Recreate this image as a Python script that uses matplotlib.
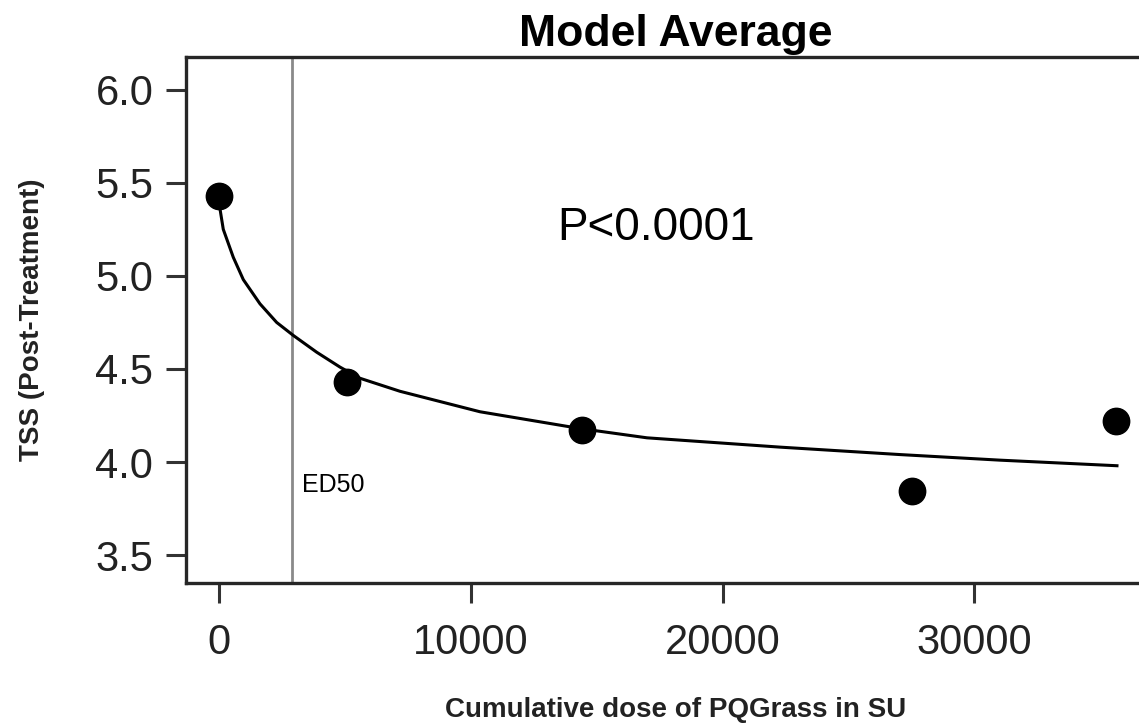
import numpy as np
import matplotlib
matplotlib.use("Agg")
import matplotlib.pyplot as plt

dose = [0, 5080, 14420, 27520, 35620]
tss = [5.43, 4.43, 4.17, 3.845, 4.22]

# fitted model-average curve
curve_x = [40, 171, 568, 966, 1628, 2291, 2953, 3880, 4806, 5600, 7189,
           10367, 14338, 17000, 22282, 27049, 31020, 35667]
curve_y = [5.36, 5.25, 5.10, 4.98, 4.85, 4.75, 4.68, 4.59, 4.51, 4.45, 4.38,
           4.27, 4.18, 4.13, 4.08, 4.04, 4.01, 3.98]

ed50 = 2920
x_ticks = [0, 10000, 20000, 30000]
y_ticks = [3.5, 4.0, 4.5, 5.0, 5.5, 6.0]

plt.rcParams['font.family'] = ['Liberation Sans', 'DejaVu Sans']

W, H = 1139, 724
fig = plt.figure(figsize=(W / 100, H / 100), dpi=100)
# axes box runs past the right edge, as in the cropped original
ax = fig.add_axes([186 / W, 1 - 583 / H, 980 / W, (583 - 57) / H])

ax.axvline(ed50, color='#8a8a8a', lw=2.0, zorder=1)
ax.plot(curve_x, curve_y, color='black', lw=2.2, zorder=2,
        solid_joinstyle='round')
ax.plot(dose, tss, 'o', color='black', markersize=19, zorder=3)

ax.set_xlim(-1310, -1310 + 980 / 0.025177)
ax.set_ylim(3.35, 6.176)
ax.set_xticks(x_ticks)
ax.set_xticklabels([str(t) for t in x_ticks])
ax.set_yticks(y_ticks)
ax.set_yticklabels([f"{t:.1f}" for t in y_ticks])

ax.tick_params(axis='both', direction='out', length=14.5, width=2.2,
               color='#333333', labelsize=30, labelcolor='#222222')
ax.tick_params(axis='x', pad=14)
ax.tick_params(axis='y', pad=9)

for side in ['left', 'bottom', 'top']:
    ax.spines[side].set_linewidth(2.4)
    ax.spines[side].set_color('#262626')
ax.spines['right'].set_visible(False)

ax.set_title('Model Average', fontsize=32, fontweight='bold', pad=8)
ax.set_xlabel('Cumulative dose of PQGrass in SU', fontsize=20,
              fontweight='bold', color='#222222', labelpad=25)
ax.set_ylabel('TSS (Post-Treatment)', fontsize=20, fontweight='bold',
              color='#222222', labelpad=36)

ax.text(13425, 5.192, 'P<0.0001', fontsize=33, ha='left', va='baseline')
ax.text(3285, 3.839, 'ED50', fontsize=18, ha='left', va='baseline')

fig.savefig('out.png', dpi=100)
